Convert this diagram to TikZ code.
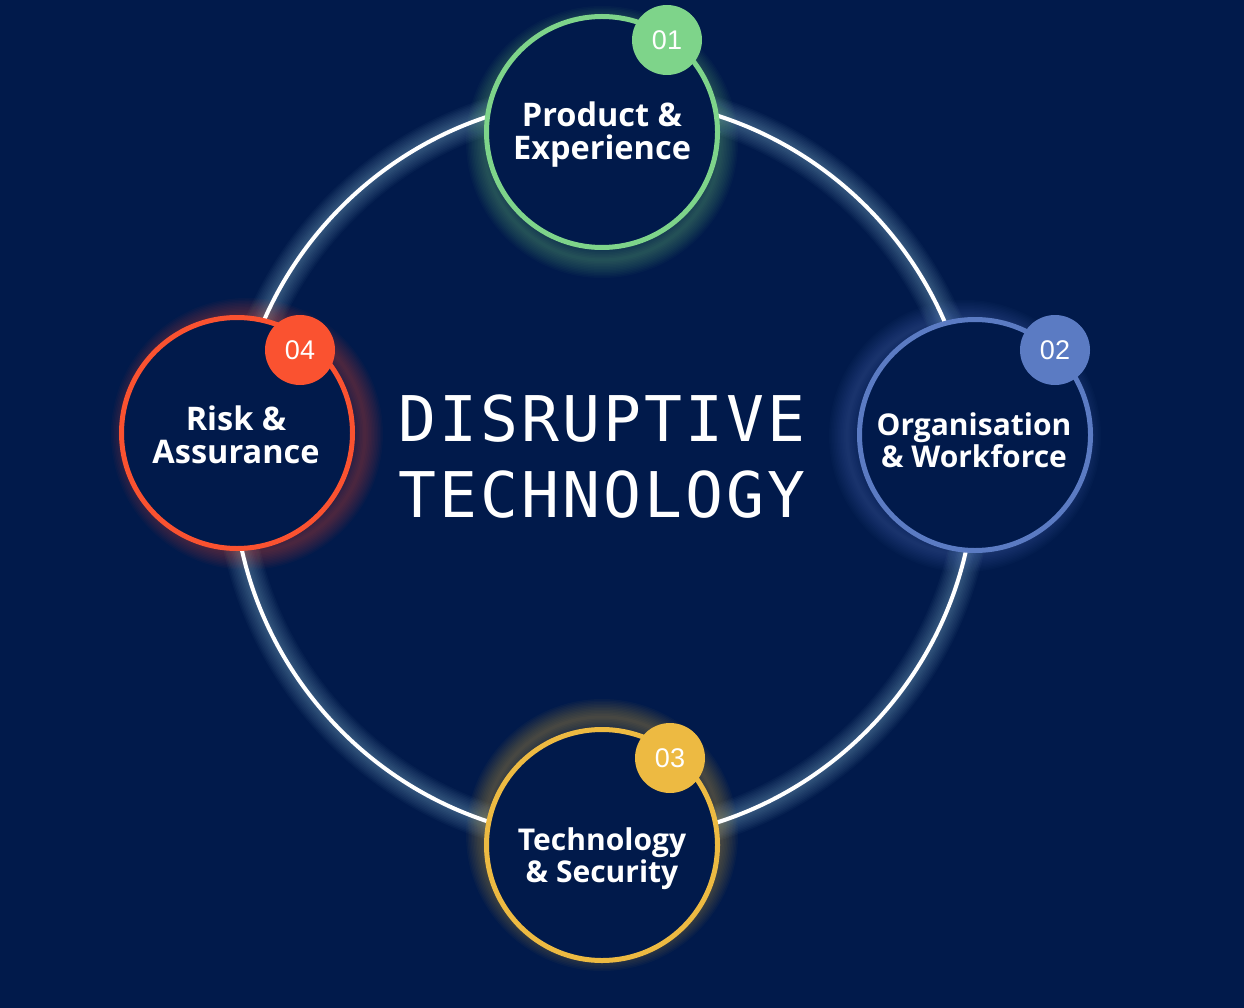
\documentclass[tikz,border=0pt]{standalone}
\usepackage{fontspec}
\usetikzlibrary{calc}
\setmainfont{Open Sans}
\newfontfamily\numfont{Liberation Sans}
\newfontfamily\monofont[LetterSpace=5]{DejaVu Sans Mono}
\definecolor{bgc}{HTML}{011A4B}
\definecolor{cgreen}{HTML}{7ED48A}
\definecolor{cred}{HTML}{FA5230}
\definecolor{cblue}{HTML}{5B7BC3}
\definecolor{cyellow}{HTML}{EDBA42}
\newcommand\glowring[3]{%
  \foreach \w in {3,6,...,36} {\draw[#2, opacity=0.03, line width=\w pt] (#1) circle[radius=#3];}%
}
\tikzset{
  ring/.style={circle, draw, line width=5pt, fill=bgc, minimum size=231pt, inner sep=0pt},
  badge/.style={circle, minimum size=70pt, inner sep=0pt, text=white, font=\numfont\fontsize{27}{27}\selectfont},
  lbl/.style={text=white, align=center, inner sep=0pt, font=\bfseries\fontsize{30}{32}\selectfont},
  lblbig/.style={lbl, font=\bfseries\fontsize{32.5}{33}\selectfont},
  title/.style={text=white, align=center, inner sep=0pt, font=\monofont\fontsize{63}{76}\selectfont},
  bigring/.style={draw=white, line width=4pt}
}
\begin{document}
\begin{tikzpicture}[x=1pt,y=-1pt]
\fill[bgc] (0,0) rectangle (1244,1008);
\useasboundingbox (0,0) rectangle (1244,1008);
\coordinate (hub) at (604,469);
\coordinate (c1) at (602,132);
\coordinate (c2) at (975,435);
\coordinate (c3) at (602,845);
\coordinate (c4) at (237,433);
% glows
\glowring{hub}{white!70!cyan}{371pt}
\glowring{$(c1)!10pt!(hub)$}{cgreen}{118pt}
\glowring{$(c2)!10pt!(hub)$}{cblue}{118pt}
\glowring{$(c3)!10pt!(hub)$}{cyellow}{118pt}
\glowring{$(c4)!10pt!(hub)$}{cred}{118pt}
% main ring
\draw[bigring] (hub) circle[radius=371pt];
% nodes
\node[ring, draw=cgreen] (n1) at (c1) {};
\node[ring, draw=cblue] (n2) at (c2) {};
\node[ring, draw=cyellow] (n3) at (c3) {};
\node[ring, draw=cred] (n4) at (c4) {};
% badges
\node[badge, fill=cgreen] (b1) at (667,40) {01};
\node[badge, fill=cblue] (b2) at (1055,350) {02};
\node[badge, fill=cyellow] (b3) at (670,758) {03};
\node[badge, fill=cred] (b4) at (300,350) {04};
% labels
\node[lblbig] (t1) at (602,135) {Product \&\\Experience};
\node[lbl] (t2) at (974,440) {Organisation\\\& Workforce};
\node[lbl] (t3) at (602,859) {Technology\\\& Security};
\node[lblbig] (t4) at (236,435) {Risk \&\\Assurance};
% title
\node[title] (title) at (602,457) {DISRUPTIVE\\TECHNOLOGY};
\end{tikzpicture}
\end{document}
